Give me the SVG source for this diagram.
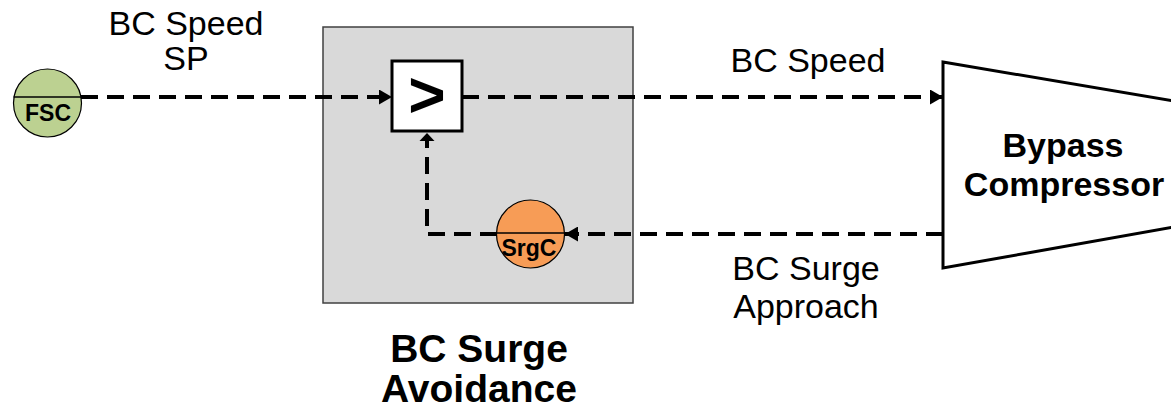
<svg xmlns="http://www.w3.org/2000/svg" width="1171" height="411" viewBox="0 0 1171 411">
  <defs>
    <style>
      .lbl { font-family: "Liberation Sans", Arial, sans-serif; font-size: 34px; fill: #000; text-anchor: middle; }
      .bold { font-weight: bold; }
      .big { font-size: 39px; }
      .tag { font-family: "Liberation Sans", Arial, sans-serif; font-weight: bold; fill: #000; text-anchor: middle; }
      .sig { fill: none; stroke: #000; stroke-width: 4; stroke-dasharray: 17 9; }
      .chord { stroke: #000; stroke-width: 1.5; }
      .edge { stroke: #000; stroke-width: 1.2; }
    </style>
    <marker id="arrow" viewBox="0 0 13 15" refX="13" refY="7.5" markerWidth="13" markerHeight="15" markerUnits="userSpaceOnUse" orient="auto">
      <path d="M0,0 L13,7.5 L0,15 Z" fill="#000"/>
    </marker>
  </defs>

  <rect width="1171" height="411" fill="#fff"/>

  <!-- control block housing -->
  <g id="surge-avoidance">
    <rect x="323" y="27" width="310" height="276" fill="#d9d9d9" stroke="#404040" stroke-width="1.5"/>
    <text class="lbl bold big" x="479" y="362">BC Surge</text>
    <text class="lbl bold big" x="479" y="402">Avoidance</text>
  </g>

  <!-- signal connectors -->
  <g id="connectors">
    <path class="sig" d="M81,97 H392" marker-end="url(#arrow)"/>
    <path class="sig" d="M462,97 H943" marker-end="url(#arrow)"/>
    <path class="sig" d="M943,234 H565" marker-end="url(#arrow)"/>
    <path class="sig" d="M497,234 H427 V141"/>
    <path d="M419.5,141 L434.5,141 L427,133 Z" fill="#000"/>
  </g>

  <!-- speed setpoint source -->
  <g id="fsc">
    <circle cx="47.5" cy="103" r="34" fill="#bcd191" class="edge"/>
    <line x1="13.6" y1="97" x2="81.4" y2="97" class="chord"/>
    <text class="tag" x="48" y="121" font-size="23">FSC</text>
  </g>

  <!-- high selector -->
  <g id="selector">
    <rect x="392" y="61" width="70" height="70" fill="#fff" stroke="#000" stroke-width="3"/>
    <text class="tag" x="427" y="117" font-size="64">&gt;</text>
  </g>

  <!-- surge controller -->
  <g id="srgc">
    <circle cx="530.5" cy="234" r="34" fill="#f79c56" class="edge"/>
    <line x1="496.5" y1="233" x2="564.5" y2="233" class="chord"/>
    <text class="tag" x="529" y="256" font-size="23">SrgC</text>
  </g>

  <!-- compressor -->
  <g id="compressor">
    <polygon points="943,62 1180,102 1180,226 943,268" fill="#fff" stroke="#000" stroke-width="3"/>
    <text class="lbl bold" x="1063" y="157">Bypass</text>
    <text class="lbl bold" x="1064" y="196">Compressor</text>
  </g>

  <!-- signal labels -->
  <g id="labels">
    <text class="lbl" x="186" y="35">BC Speed</text>
    <text class="lbl" x="186" y="70">SP</text>
    <text class="lbl" x="808" y="72">BC Speed</text>
    <text class="lbl" x="806" y="280">BC Surge</text>
    <text class="lbl" x="806" y="318">Approach</text>
  </g>
</svg>
